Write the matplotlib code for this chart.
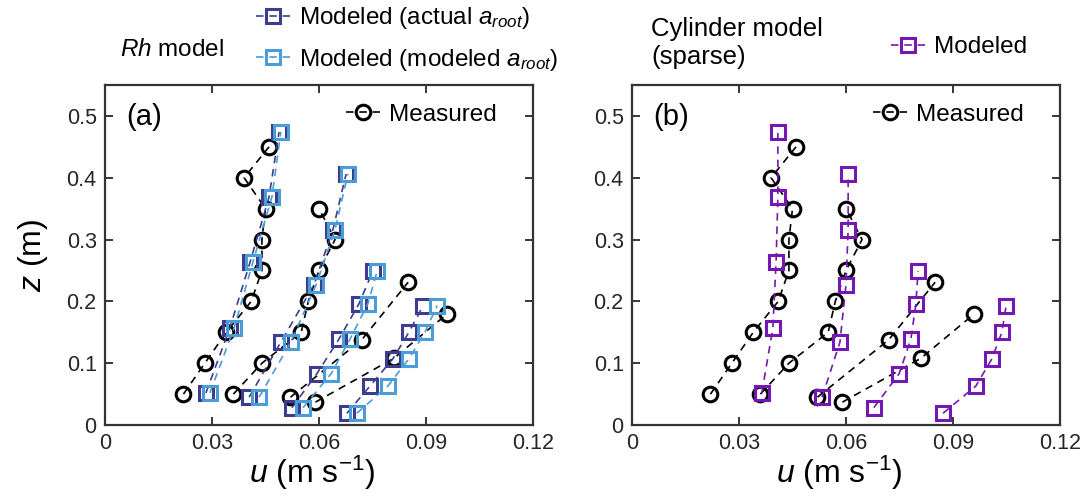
import matplotlib
matplotlib.use("Agg")
import matplotlib.pyplot as plt
from matplotlib.lines import Line2D

plt.rcParams['font.family'] = ['Liberation Sans', 'DejaVu Sans']
plt.rcParams['mathtext.fontset'] = 'custom'
plt.rcParams['mathtext.rm'] = 'Liberation Sans'
plt.rcParams['mathtext.it'] = 'Liberation Sans:italic'
plt.rcParams['mathtext.bf'] = 'Liberation Sans:bold'

# ---- Measured profiles (same in both panels) ----
z_meas1 = [0.05, 0.10, 0.15, 0.20, 0.25, 0.30, 0.35, 0.40, 0.45]
u_meas1 = [0.022, 0.028, 0.034, 0.041, 0.044, 0.044, 0.045, 0.039, 0.046]
z_meas2 = [0.05, 0.10, 0.15, 0.20, 0.25, 0.30, 0.35]
u_meas2 = [0.036, 0.044, 0.055, 0.057, 0.060, 0.0645, 0.060]
z_meas3 = [0.045, 0.138, 0.231]
u_meas3 = [0.052, 0.072, 0.085]
z_meas4 = [0.037, 0.108, 0.180]
u_meas4 = [0.059, 0.081, 0.096]

# ---- Modeled heights ----
z_mod1 = [0.052, 0.157, 0.264, 0.369, 0.474]
z_mod2 = [0.045, 0.134, 0.227, 0.316, 0.406]
z_mod3 = [0.028, 0.083, 0.139, 0.196, 0.249]
z_mod4 = [0.019, 0.063, 0.107, 0.150, 0.193]

# ---- Rh model (actual a_root) ----
u_act1 = [0.0283, 0.0350, 0.0407, 0.0460, 0.0488]
u_act2 = [0.0404, 0.0493, 0.0586, 0.0639, 0.0676]
u_act3 = [0.0524, 0.0594, 0.0656, 0.0712, 0.0751]
u_act4 = [0.0678, 0.0743, 0.0807, 0.0852, 0.0892]
# ---- Rh model (modeled a_root) ----
u_mod1 = [0.0294, 0.0362, 0.0415, 0.0468, 0.0493]
u_mod2 = [0.0432, 0.0521, 0.0592, 0.0645, 0.0681]
u_mod3 = [0.0555, 0.0634, 0.0687, 0.0737, 0.0763]
u_mod4 = [0.0706, 0.0793, 0.0852, 0.0897, 0.0931]
# ---- Cylinder model (sparse) ----
u_cyl1 = [0.0364, 0.0395, 0.0404, 0.0409, 0.0409]
u_cyl2 = [0.0533, 0.0583, 0.0600, 0.0606, 0.0606]
u_cyl3 = [0.0678, 0.0749, 0.0782, 0.0796, 0.0802]
u_cyl4 = [0.0872, 0.0964, 0.1009, 0.1037, 0.1049]

xticks = [0, 0.03, 0.06, 0.09, 0.12]
xticklabels = ['0', '0.03', '0.06', '0.09', '0.12']
yticks = [0, 0.1, 0.2, 0.3, 0.4, 0.5]
yticklabels = ['0', '0.1', '0.2', '0.3', '0.4', '0.5']

c_meas = 'black'
c_act = '#3d3d8f'
c_mod = '#4a9dd6'
c_cyl = '#7418b4'

W, H = 1089, 503
fig = plt.figure(figsize=(W / 100, H / 100), dpi=100)

def px_axes(x0, y0, x1, y1):
    return fig.add_axes([x0 / W, 1 - y1 / H, (x1 - x0) / W, (y1 - y0) / H])

axa = px_axes(105, 85, 533, 425)
axb = px_axes(632, 85, 1060, 425)

ms = 10.5
mew = 2.2
lw = 1.2
dash = (0, (4.5, 3.5))
leg_fs = 17.5

def prof(ax, u, z, color, marker):
    ax.plot(u, z, linestyle=dash, color=color, lw=lw, marker=marker,
            ms=ms, mfc='none', mec=color, mew=mew)

def handle(color, marker):
    return Line2D([], [], linestyle=dash, color=color, lw=lw, marker=marker, ms=ms,
                  mfc='none', mec=color, mew=mew)

meas = [(u_meas1, z_meas1), (u_meas2, z_meas2), (u_meas3, z_meas3), (u_meas4, z_meas4)]
zm = [z_mod1, z_mod2, z_mod3, z_mod4]

for (u, z) in meas:
    prof(axa, u, z, c_meas, 'o')
    prof(axb, u, z, c_meas, 'o')
for u, z in zip([u_act1, u_act2, u_act3, u_act4], zm):
    prof(axa, u, z, c_act, 's')
for u, z in zip([u_mod1, u_mod2, u_mod3, u_mod4], zm):
    prof(axa, u, z, c_mod, 's')
for u, z in zip([u_cyl1, u_cyl2, u_cyl3, u_cyl4], zm):
    prof(axb, u, z, c_cyl, 's')

for ax, lab in [(axa, '(a)'), (axb, '(b)')]:
    ax.set_xlim(0, 0.12)
    ax.set_ylim(0, 0.55)
    ax.set_xticks(xticks)
    ax.set_xticklabels(xticklabels)
    ax.set_yticks(yticks)
    ax.set_yticklabels(yticklabels)
    ax.tick_params(direction='in', top=True, right=True, length=6, width=1.3,
                   labelsize=15.5, colors='#262626', pad=6)
    for s in ax.spines.values():
        s.set_linewidth(1.6)
        s.set_color('#333333')
    ax.set_xlabel(r'$\mathit{u}$ (m s$^{-1}$)', fontsize=23)
    ax.xaxis.set_label_coords(0.483, -0.083)
    ax.text(0.05, 0.905, lab, transform=ax.transAxes, fontsize=21,
            va='center', ha='left')
    ax.legend([handle(c_meas, 'o')], ['Measured'], loc='center right',
              bbox_to_anchor=(0.915, 0.912), frameon=False, fontsize=leg_fs,
              handlelength=1.4, handletextpad=0.37, borderaxespad=0.0, borderpad=0.0)

axa.set_ylabel(r'$\mathit{z}$ (m)', fontsize=23, labelpad=12)

# Headers
fig.text(120 / W, 1 - 50 / H, r'$\mathit{Rh}$ model', fontsize=17.5, va='center', ha='left')
fig.text(651 / W, 1 - 43 / H, 'Cylinder model\n(sparse)', fontsize=18.5, va='center',
         ha='left', linespacing=1.25)

fig.legend([handle(c_act, 's'), handle(c_mod, 's')],
           [r'Modeled (actual $\mathit{a}_{\mathit{root}}$)',
            r'Modeled (modeled $\mathit{a}_{\mathit{root}}$)'],
           loc='center left', bbox_to_anchor=(256 / W, 1 - 39 / H),
           frameon=False, fontsize=leg_fs, handlelength=1.4, handletextpad=0.37,
           labelspacing=0.65, borderpad=0.0, borderaxespad=0.0)
fig.legend([handle(c_cyl, 's')], ['Modeled'], loc='center left',
           bbox_to_anchor=(891 / W, 1 - 47 / H),
           frameon=False, fontsize=leg_fs, handlelength=1.4, handletextpad=0.37,
           borderpad=0.0, borderaxespad=0.0)

fig.savefig('out.png', dpi=100)
